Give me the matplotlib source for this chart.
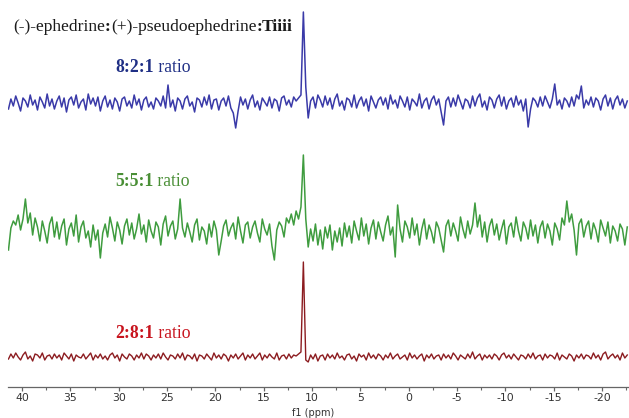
import numpy as np
import matplotlib
matplotlib.use("Agg")
import matplotlib.pyplot as plt

plt.rcParams["axes.unicode_minus"] = False

# ---- data (arbitrary intensity units) ----
ppm_start = 41.4
ppm_step = 0.25

blue_8_2_1 = [
    -6, 4, -3, 7, 0, -8, 5, 2, -4, 8, -2, 3, -7, 6, 1, -5, 9, -3, 4, -6,
    2, 7, -4, 5, -9, 3, 6, -2, 8, -5, 1, 4, -7, 9, -1, 5, -3, 6, -8, 2,
    7, -4, 3, -6, 5, 1, -8, 4, 6, -3, 2, -5, 8, -2, 4, -7, 3, 6, -4, 1,
    -6, 5, 2, -3, 7, -5, 18, -4, 3, -8, 5, 2, -6, 4, 7, -3, 1, -9, 5, 3,
    -4, 6, -2, 8, -6, 3, 4, -7, 2, 5, -3, 7, -5, -10, -25, -8, 6, -2, 4, -6,
    3, 8, -4, 2, -7, 5, 1, -3, 6, -5, 4, 2, -8, 5, 7, -2, 3, -4, 6, 2, 5, 8,
    91,
    16, -15, 2, 6, -5, 8, 3, -4, 7, -2, 5, -6, 4, 9, -3, 2, -7,
    5, 3, -4, 8, -5, 2, 6, -3, 4, -8, 7, 1, -5, 3, 6, -2, 5, -6, 8, -1,
    3, -5, 7, 2, -4, 6, -7, 4, 1, -3, 9, -5, 2, 5, -6, 3, 7, -2, 4, -9,
    -22, 2, 6, -4, 5, -3, 8, 1, -6, 4, 2, -5, 7, -3, 5, 9, -4, 2, -7, 6,
    3, -5, 4, 8, -3, 6, -6, 2, 5, -4, 7, -2, 3, -8, 4, -24, -6, 5, 2, -4,
    6, -3, 7, 1, -5, 4, 19, -2, 3, -6, 5, 2, -4, 6, -3, 8, 4, 17, -5, 3,
    -2, 6, -4, 5, 2, -7, 4, 8, -3, 5, -6, 3, 7, -2, 4, -5, 2,
]

green_5_5_1 = [
    -17, 5, 12, 8, 18, 3, 14, 34, 10, 20, -2, 15, 6, -8, 12, 2, -10, 9, 16, -4,
    11, -6, 7, 14, -12, 4, 10, -3, 18, -9, 6, 12, -5, 2, -14, 8, -7, 3, -25, 0,
    9, -4, 16, 5, -8, 11, 3, -11, 7, 14, -2, 10, -6, 4, 19, -1, 8, -9, 13, 2,
    -5, 11, 6, -12, 9, 17, -3, 7, 12, -6, 4, 34, 5, -4, 10, 1, -9, 8, 14, -7,
    6, 2, -11, 9, -4, 12, 3, -22, -8, 7, 13, -3, 5, 10, -6, 16, 2, -10, 8, 11,
    -5, 6, 12, 0, -9, 14, 4, -2, 9, -13, -27, 3, 11, 7, -4, 15, 10, 19, 8, 22, 14, 26,
    78,
    14, -14, 4, -8, 9, -12, 3, -16, 6, -5, 8, -17, 2, -9, 5, -13, 10,
    -4, 7, -10, 12, 2, -7, 15, -3, 9, -11, 5, 13, -6, 11, 1, -8, 8, 17, -2, 6,
    -24, 28, 4, -9, 12, 6, -5, 15, -2, 9, -12, 4, 14, -6, 8, 1, -10, 11, 5, -7,
    -19, 7, 13, -3, 10, 2, -8, 16, 4, -5, 12, -1, 8, 30, 6, 18, -4, 11, -9, 7,
    14, -2, 9, -7, 4, 13, -11, 6, 10, -4, 16, 2, -8, 11, 5, -6, 13, -3, 8, -10,
    6, 12, -5, 9, 2, -12, 10, 4, -7, 15, 8, 32, 11, 19, 3, -22, 9, 14, -4, 7,
    12, -6, 10, 3, -9, 13, 5, -3, 11, -10, 7, 2, -8, 9, 4, -12, 6,
]

red_2_8_1 = [
    -2, 3, -1, 4, 0, -3, 2, 5, -2, 1, -4, 3, 2, -1, 4, -3, 1, 2, -2, 3,
    -1, 2, -3, 4, 1, -2, 3, -4, 2, 0, -1, 3, -2, 1, 4, -3, 2, -1, 3, -2,
    1, -3, 2, 4, -1, 2, -4, 3, 0, -2, 3, 1, -3, 2, -1, 4, -2, 3, 1, -3,
    2, -1, 3, -2, 4, 0, -3, 2, 1, -2, 3, -1, 4, -3, 2, 1, -2, 3, -4, 2,
    1, -2, 3, 0, -3, 4, -1, 2, -2, 3, 1, -4, 2, -1, 3, -2, 1, 4, -3, 2,
    -1, 3, -2, 1, 4, -3, 2, -1, 3, 0, -2, 4, -3, 1, 2, -2, 3, -1, 2, 1, 3, 5,
    95,
    -3, -5, 2, -2, 3, -4, 1, 2, -3, 3, -1, 2, -2, 4, -1, 1, -3,
    2, 3, -2, 1, -4, 3, 0, 2, -3, 4, -1, 2, -2, 3, 1, -3, 2, -1, 4, -2,
    1, 3, -2, 0, 2, -3, 4, -1, 2, -2, 1, 3, -4, 2, -1, 3, -2, 1, 2, -3,
    3, -1, 2, -2, 4, 1, -3, 2, 0, -2, 3, -1, 5, -2, 1, 3, -3, 2, -1, 2,
    -2, 3, 1, -3, 2, 4, -1, 2, -2, 3, 0, -3, 2, 1, -2, 3, -1, 4, -2, 1,
    2, -3, 3, -1, 2, 1, -2, 4, -3, 2, 0, -2, 3, 1, -4, 2, -1, 3, -2, 2,
    1, -2, 4, -1, 2, -3, 3, 5, -2, 1, 3, -1, 2, -3, 4, -1, 2,
]

x_ticks = [40, 35, 30, 25, 20, 15, 10, 5, 0, -5, -10, -15, -20]
x_label = "f1 (ppm)"

# ---- figure ----
W, H = 629, 418
AX_BOTTOM = 387  # pixel row of the axis line
fig = plt.figure(figsize=(W / 100, H / 100), dpi=100)
ax = fig.add_axes([8 / W, (H - AX_BOTTOM) / H, (W - 8) / W, AX_BOTTOM / H])

def ppm_axis(vals):
    return ppm_start - ppm_step * np.arange(len(vals))

traces = [
    (blue_8_2_1, 286, "#3a3aa8", 1.1),
    (green_5_5_1, 156, "#3f9c3f", 1.1),
    (red_2_8_1, 32, "#8c1c20", 1.0),
]
for vals, off, col, lw in traces:
    ax.plot(ppm_axis(vals), np.asarray(vals) + off, color=col, lw=lw)

ax.set_xlim(41.45, -22.78)
ax.set_ylim(389 - AX_BOTTOM, 389)
for s in ("top", "left", "right"):
    ax.spines[s].set_visible(False)
ax.spines["bottom"].set_color("#666666")
ax.spines["bottom"].set_linewidth(0.9)
ax.set_yticks([])
ax.set_xticks(x_ticks)
ax.set_xticks(np.arange(37.5, -22.6, -5), minor=True)
ax.tick_params(axis="x", which="major", direction="out", length=3, width=0.9,
               colors="#666666", labelcolor="#333333", labelsize=7.8, pad=1.5)
ax.tick_params(axis="x", which="minor", direction="out", length=2.2, width=0.8,
               colors="#666666")
fig.text(313 / W, 0.5 / H, x_label, fontsize=7, color="#333333",
         ha="center", va="bottom")

# ---- text labels with mixed weight ----
renderer = fig.canvas.get_renderer()

def rich_text(x_px, y_px, pieces, color, size):
    x = x_px
    for txt, weight in pieces:
        t = fig.text(x / W, 1 - y_px / H, txt, color=color, fontsize=size,
                     family="Liberation Serif", weight=weight, va="center", ha="left")
        bb = t.get_window_extent(renderer=renderer)
        x += bb.width

rich_text(13, 27, [("(-)-ephedrine", "normal"), (":", "bold"),
                   ("(+)-pseudoephedrine", "normal"), (":", "bold"),
                   ("Tiiii", "bold")], "#1a1a1a", 12.6)
rich_text(115, 67, [("8:2:1", "bold"), (" ratio", "normal")], "#1f2f85", 12.7)
rich_text(115, 182, [("5:5:1", "bold"), (" ratio", "normal")], "#4a8f36", 12.7)
rich_text(115, 334, [("2:8:1", "bold"), (" ratio", "normal")], "#c8141e", 12.7)

fig.savefig("out.png", dpi=100)
